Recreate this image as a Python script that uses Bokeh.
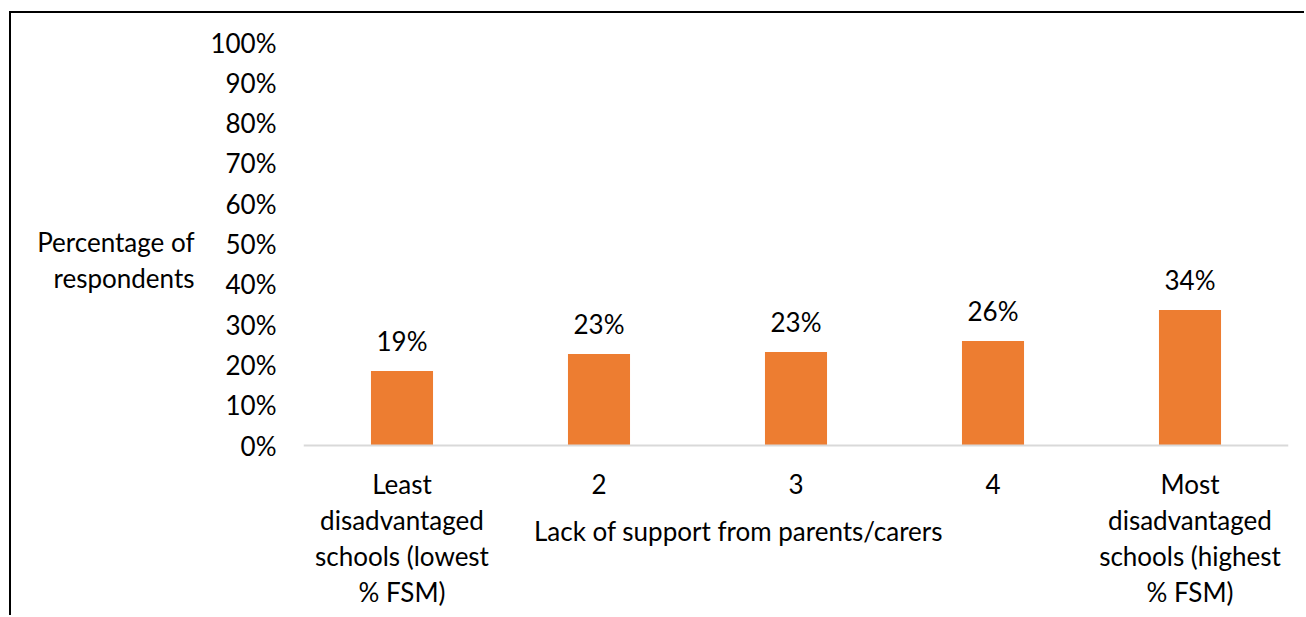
from bokeh.plotting import figure
from bokeh.models import (FactorRange, NumeralTickFormatter, FixedTicker, ColumnDataSource,
                          LabelSet, Label, LinearAxis, Range1d, Span)
from bokeh.core.properties import value
from bokeh.embed import file_html
from bokeh.resources import INLINE

categories = ["Least\ndisadvantaged\nschools (lowest\n% FSM)", "2", "3", "4",
              "Most\ndisadvantaged\nschools (highest\n% FSM)"]
values = [0.185, 0.227, 0.232, 0.259, 0.336]
value_labels = ["19%", "23%", "23%", "26%", "34%"]
y_ticks = [0.0, 0.1, 0.2, 0.3, 0.4, 0.5, 0.6, 0.7, 0.8, 0.9, 1.0]
x_title = "Lack of support from parents/carers"
y_title = "Percentage of\nrespondents"
y_title_at = 0.46

FONT = "Lato"
FS = "26px"

# layout geometry (pixels)
W, H = 1295, 604
LEFT, RIGHT, TOP, BOTTOM = 292, 18, 29, 0
PX_PER_UNIT = 403
LINE_STEP = 36
FIRST_LINE = 38
frame_h = H - TOP - BOTTOM
y_start = -(frame_h - PX_PER_UNIT) / PX_PER_UNIT

src = ColumnDataSource(dict(cat=categories, val=values, lab=value_labels))

# one entry per text line of each category label, so every line is centred
l_cat, l_txt, l_off, l_base = [], [], [], []
for c in categories:
    for i, line in enumerate(c.split("\n")):
        l_cat.append(c)
        l_txt.append(line)
        l_off.append(-(FIRST_LINE + LINE_STEP * i))
        l_base.append(0.0)
line_src = ColumnDataSource(dict(cat=l_cat, txt=l_txt, off=l_off, base=l_base))

p = figure(width=W, height=H, output_backend="svg", toolbar_location=None,
           x_range=FactorRange(*categories, range_padding=0),
           y_range=Range1d(y_start, 1.0), x_axis_location=None,
           min_border_left=LEFT, min_border_right=RIGHT, min_border_top=TOP,
           min_border_bottom=BOTTOM)
p.styles = {"margin-left": "9px", "margin-top": "11px",
            "border-left": "2px solid black", "border-top": "2px solid black"}
p.background_fill_color = "white"
p.border_fill_color = "white"
p.outline_line_color = None
p.grid.visible = False

p.vbar(x="cat", top="val", width=0.315, source=src, color="#ED7D31", line_color=None)

# category baseline
p.add_layout(Span(location=0, dimension="width", line_color="#d9d9d9", line_width=2))

p.add_layout(LabelSet(x="cat", y="val", text="lab", source=src, text_align="center",
                      text_baseline="bottom", y_offset=14, text_font=value(FONT),
                      text_font_size=FS, text_color="#000000"))

# category labels, line by line
p.add_layout(LabelSet(x="cat", y="base", text="txt", source=line_src, text_align="center",
                      text_baseline="middle", y_offset="off", text_font=value(FONT),
                      text_font_size=FS, text_color="#000000"))

ya = p.yaxis[0]
ya.ticker = FixedTicker(ticks=y_ticks)
ya.formatter = NumeralTickFormatter(format="0%")
ya.axis_line_color = None
ya.major_tick_line_color = None
ya.minor_tick_line_color = None
ya.major_tick_out = 0
ya.major_tick_in = 0
ya.major_label_standoff = 27
ya.major_label_text_font = FONT
ya.major_label_text_font_size = FS
ya.major_label_text_color = "#000000"

# y title as a second left axis with one labelled tick
ta = LinearAxis(ticker=FixedTicker(ticks=[y_title_at]),
                major_label_overrides={y_title_at: y_title})
ta.axis_line_color = None
ta.major_tick_line_color = None
ta.minor_tick_line_color = None
ta.major_tick_out = 0
ta.major_tick_in = 0
ta.major_label_standoff = 13
ta.major_label_text_align = "center"
ta.major_label_text_font = FONT
ta.major_label_text_font_size = FS
ta.major_label_text_color = "#000000"
ta.major_label_text_line_height = 1.12
p.add_layout(ta, "left")

p.add_layout(Label(x=435, y=87, x_units="screen", y_units="screen", text=x_title,
                   text_align="center", text_baseline="middle", text_font=FONT,
                   text_font_size=FS, text_color="#000000"))

open("out.html", "w").write(file_html(p, INLINE))
